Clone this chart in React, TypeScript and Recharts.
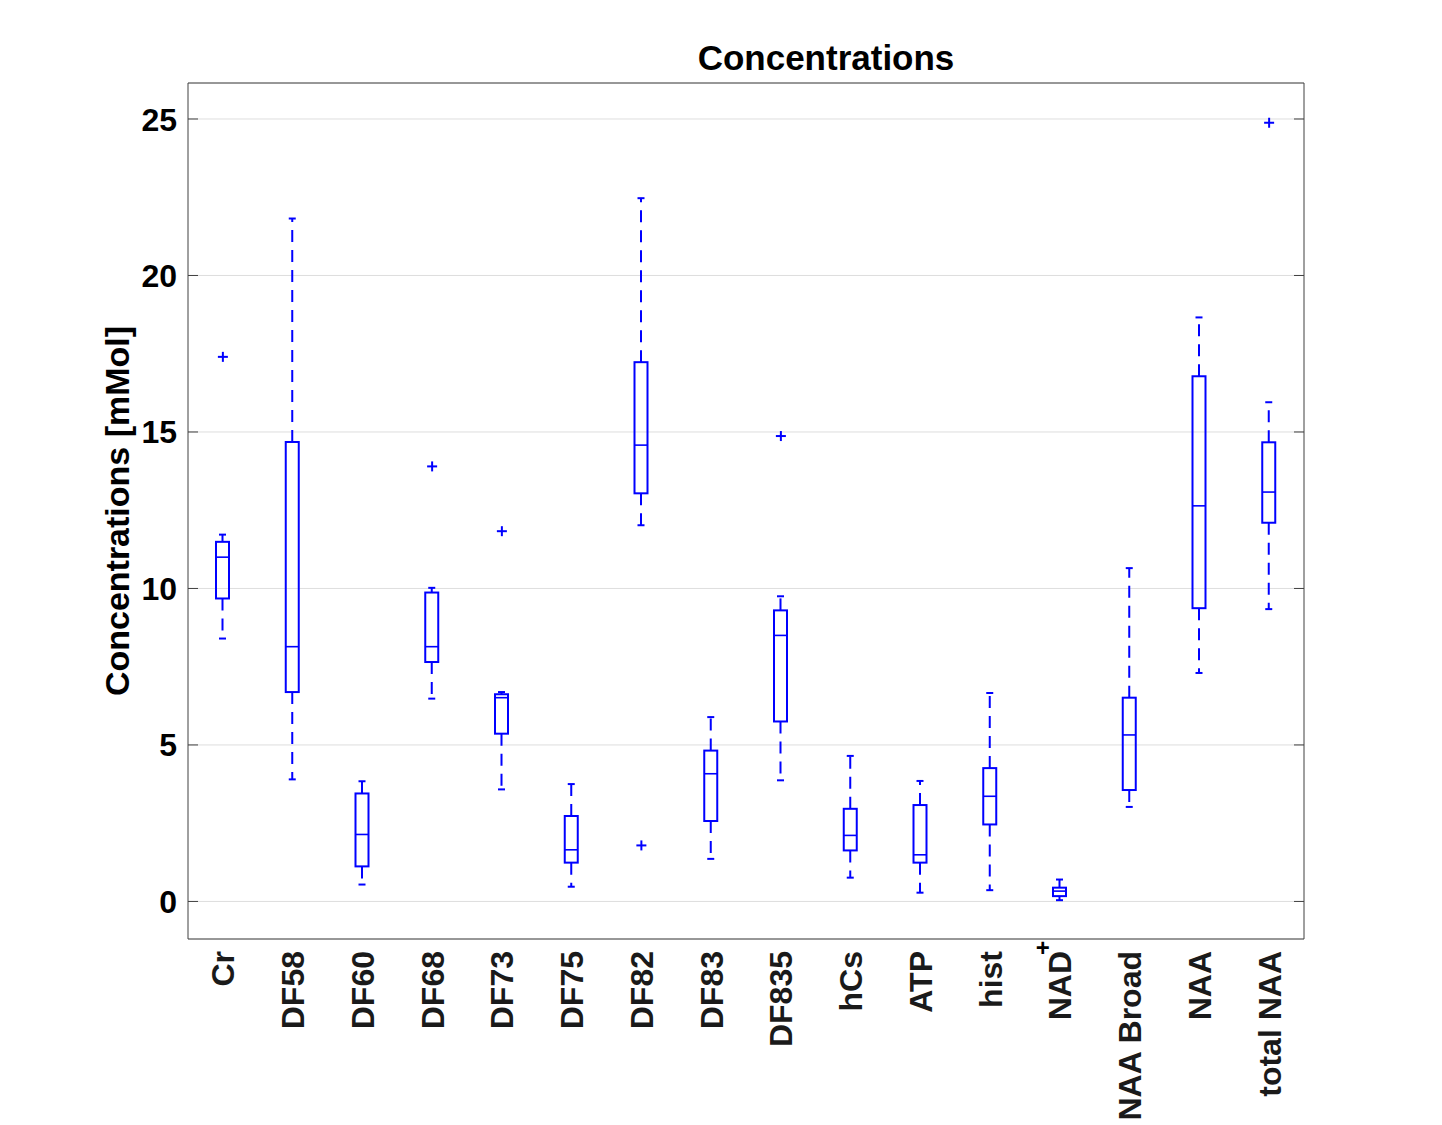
import React from 'react';
import { ComposedChart, Bar, Line, XAxis, YAxis, CartesianGrid } from 'recharts';

const categories = ['Cr', 'DF58', 'DF60', 'DF68', 'DF73', 'DF75', 'DF82', 'DF83', 'DF835', 'hCs', 'ATP', 'hist', 'NAD', 'NAA Broad', 'NAA', 'total NAA'];
const whiskerLow = [8.40, 3.90, 0.54, 6.48, 3.58, 0.47, 12.02, 1.36, 3.87, 0.76, 0.28, 0.36, 0.04, 3.02, 7.30, 9.34];
const q1 = [9.68, 6.69, 1.12, 7.65, 5.36, 1.24, 13.04, 2.57, 5.75, 1.63, 1.24, 2.46, 0.17, 3.56, 9.37, 12.10];
const median = [11.0, 8.14, 2.14, 8.14, 6.51, 1.65, 14.58, 4.08, 8.50, 2.11, 1.49, 3.36, 0.33, 5.32, 12.64, 13.08];
const q3 = [11.49, 14.68, 3.45, 9.87, 6.62, 2.73, 17.23, 4.82, 9.30, 2.96, 3.08, 4.26, 0.44, 6.51, 16.78, 14.67];
const whiskerHigh = [11.72, 21.82, 3.84, 10.02, 6.69, 3.75, 22.47, 5.89, 9.75, 4.65, 3.85, 6.66, 0.70, 10.65, 18.66, 15.95];
const outliers: (number | null)[] = [17.40, null, null, 13.90, 11.83, null, 1.79, null, 14.87, null, null, null, null, null, null, 24.88];
const yTicks = [0, 5, 10, 15, 20, 25];

const data = categories.map((name, i) => ({
  name,
  lo: whiskerLow[i],
  q1: q1[i],
  med: median[i],
  q3: q3[i],
  hi: whiskerHigh[i],
  outlier: outliers[i],
}));

const BLUE = '#0000FF';
const FONT = '"Liberation Sans", Arial, Helvetica, sans-serif';
const FRAME = '#404040';

const BoxShape = (props: any) => {
  const { x, y, width, height, payload } = props;
  if (x == null || y == null) return <g />;
  const top = Math.min(y, y + height);
  const bot = Math.max(y, y + height);
  const lo = payload.lo;
  const hi = payload.hi;
  const py = (v: number) => bot - ((bot - top) * (v - lo)) / (hi - lo);
  const cx = x + width / 2;
  const bh = width / 2;
  const ch = 3.5;
  const yq1 = py(payload.q1);
  const yq3 = py(payload.q3);
  const ym = py(payload.med);
  return (
    <g>
      <line x1={cx} x2={cx} y1={yq3} y2={top} stroke={BLUE} strokeWidth={2} strokeDasharray="12 8" />
      <line x1={cx} x2={cx} y1={yq1} y2={bot} stroke={BLUE} strokeWidth={2} strokeDasharray="12 8" />
      <line x1={cx - ch} x2={cx + ch} y1={top} y2={top} stroke={BLUE} strokeWidth={2} />
      <line x1={cx - ch} x2={cx + ch} y1={bot} y2={bot} stroke={BLUE} strokeWidth={2} />
      <rect x={cx - bh} y={yq3} width={2 * bh} height={yq1 - yq3} fill="none" stroke={BLUE} strokeWidth={2} />
      <line x1={cx - bh} x2={cx + bh} y1={ym} y2={ym} stroke={BLUE} strokeWidth={1.6} />
    </g>
  );
};

const CrossDot = (props: any) => {
  const { cx, cy, payload, index } = props;
  if (payload == null || payload.outlier == null || cy == null || isNaN(cy)) return <g key={`o${index}`} />;
  const s = 5;
  return (
    <g key={`o${index}`}>
      <line x1={cx - s} x2={cx + s} y1={cy} y2={cy} stroke={BLUE} strokeWidth={2} />
      <line x1={cx} x2={cx} y1={cy - s} y2={cy + s} stroke={BLUE} strokeWidth={2} />
    </g>
  );
};

const LeftTick = (props: any) => {
  const { x, y, payload } = props;
  return (
    <g>
      <line x1={x} x2={x + 10} y1={y} y2={y} stroke={FRAME} strokeWidth={1} />
      <text x={x - 11} y={y} dy="0.36em" textAnchor="end" fontSize={32} fontWeight="bold" fontFamily={FONT} fill="#000">
        {payload.value}
      </text>
    </g>
  );
};

const RightTick = (props: any) => {
  const { x, y } = props;
  return <line x1={x} x2={x - 10} y1={y} y2={y} stroke={FRAME} strokeWidth={1} />;
};

const BottomTick = (props: any) => {
  const { x, y, payload } = props;
  const label = String(payload.value);
  return (
    <g>
      <g transform={`translate(${x},${y + 12})`}>
        <text transform="rotate(-90)" x={0} y={0} dy="0.36em" textAnchor="end" fontSize={32} fontWeight="bold" fontFamily={FONT} fill="#1a1a1a">
          {label}
        </text>
      </g>
      {label === 'NAD' ? (
        <text x={x - 17} y={y + 8} dy="0.36em" textAnchor="middle" fontSize={24} fontWeight="bold" fontFamily={FONT} fill="#000">
          +
        </text>
      ) : null}
    </g>
  );
};

const Labels = (props: any) => {
  const vb = props.viewBox || {};
  const cy = (vb.y ?? 83) + (vb.height ?? 856) / 2;
  return (
    <g>
      <text x={826} y={57} dy="0.36em" textAnchor="middle" fontSize={35} fontWeight="bold" fontFamily={FONT} fill="#000">
        Concentrations
      </text>
      <text
        x={117}
        y={cy}
        transform={`rotate(-90, 117, ${cy})`}
        dy="0.36em"
        textAnchor="middle"
        fontSize={34}
        fontWeight="bold"
        fontFamily={FONT}
        fill="#000"
      >
        Concentrations [mMol]
      </text>
    </g>
  );
};

export default function App() {
  return (
    <div style={{ position: 'absolute', left: 0, top: 0, width: 1442, height: 1125, background: '#fff' }}>
      <ComposedChart
        width={1442}
        height={1125}
        data={data}
        margin={{ top: 82, right: 137, left: 0, bottom: 0 }}
        barCategoryGap={0}
      >
        <CartesianGrid vertical={false} stroke="#dedede" strokeWidth={1} />
        <XAxis
          dataKey="name"
          type="category"
          interval={0}
          height={186}
          tickSize={0}
          tickMargin={0}
          tickLine={false}
          axisLine={{ stroke: FRAME, strokeWidth: 1 }}
          tick={<BottomTick />}
        />
        <XAxis
          xAxisId="top"
          dataKey="name"
          type="category"
          orientation="top"
          height={1}
          tick={false}
          tickLine={false}
          axisLine={{ stroke: FRAME, strokeWidth: 1 }}
        />
        <YAxis
          type="number"
          domain={[-1.2, 26.15]}
          allowDataOverflow
          ticks={yTicks}
          width={188}
          tickSize={0}
          tickMargin={0}
          tickLine={false}
          axisLine={{ stroke: FRAME, strokeWidth: 1 }}
          tick={<LeftTick />}
          label={{ content: <Labels /> }}
        />
        <YAxis
          yAxisId="right"
          orientation="right"
          type="number"
          domain={[-1.2, 26.15]}
          allowDataOverflow
          ticks={yTicks}
          width={1}
          tickSize={0}
          tickMargin={0}
          tickLine={false}
          axisLine={{ stroke: FRAME, strokeWidth: 1 }}
          tick={<RightTick />}
        />
        <Bar dataKey={(d: any) => [d.lo, d.hi]} barSize={13} shape={<BoxShape />} isAnimationActive={false} />
        <Line
          dataKey="outlier"
          stroke="none"
          dot={(p: any) => <CrossDot {...p} />}
          activeDot={false}
          isAnimationActive={false}
          connectNulls={false}
          legendType="none"
        />
      </ComposedChart>
    </div>
  );
}
